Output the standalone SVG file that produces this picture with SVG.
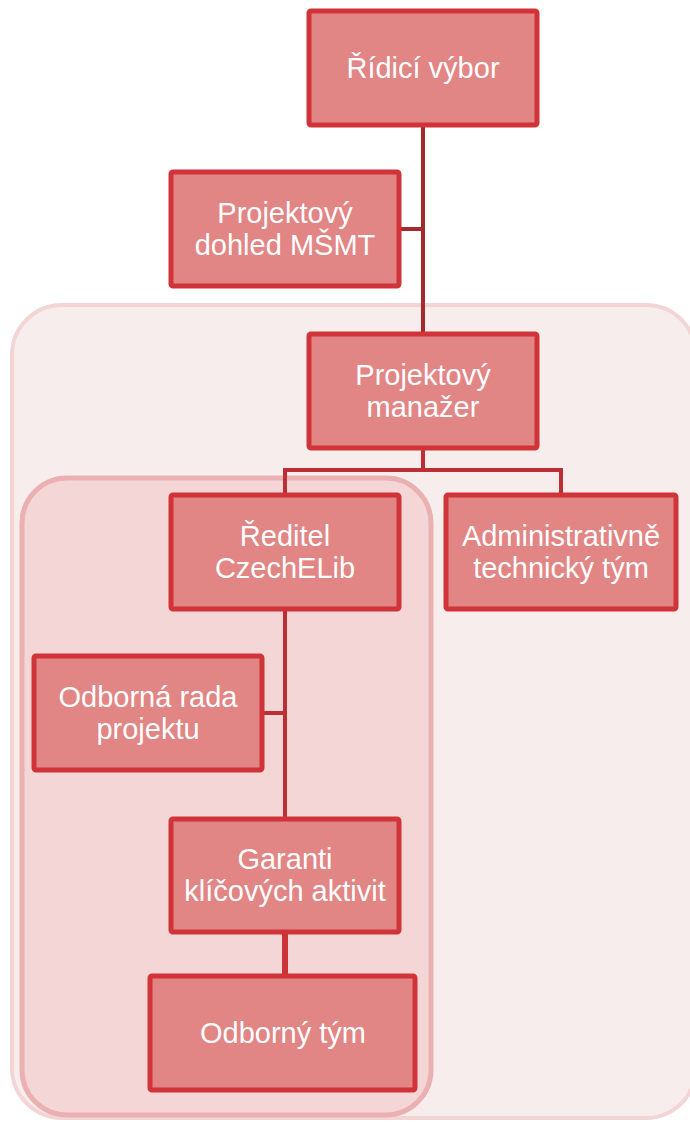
<svg xmlns="http://www.w3.org/2000/svg" width="690" height="1122" viewBox="0 0 690 1122">
<style>
.box{fill:#e18585;stroke:#d03438;stroke-width:5;}
.t{font-family:"Liberation Sans",Arial,sans-serif;font-size:29px;fill:#ffffff;text-anchor:middle;}
.c1{stroke:#a6292d;stroke-width:4;fill:none;}
.c2{stroke:#bd2f34;stroke-width:4;fill:none;}
.c3{stroke:#cc3337;stroke-width:6;fill:none;}
</style>
<g id="group-outer"><rect x="12" y="305" width="684" height="813" rx="50" fill="#f8eded" stroke="#f3d5d6" stroke-width="4"/></g>
<g id="group-inner"><rect x="22" y="478" width="409" height="637" rx="45" fill="#f4d6d7" stroke="#ebb0b1" stroke-width="5"/></g>
<g id="connectors">
<path class="c1" d="M423 125 V334 M399 229 H423"/>
<path class="c2" d="M423 448 V470 M285 495 V470 H561 V495"/>
<path class="c2" d="M285 609 V819 M262 713 H285"/>
<path class="c3" d="M285 932 V976"/>
</g>
<g id="n1"><rect class="box" x="309" y="11" width="228" height="114" rx="2"/><text class="t" x="423" y="78">Řídicí výbor</text></g>
<g id="n2"><rect class="box" x="171" y="172" width="228" height="114" rx="2"/><text class="t" x="285" y="223">Projektový</text><text class="t" x="285" y="255">dohled MŠMT</text></g>
<g id="n3"><rect class="box" x="309" y="334" width="228" height="114" rx="2"/><text class="t" x="423" y="385">Projektový</text><text class="t" x="423" y="417">manažer</text></g>
<g id="n4"><rect class="box" x="171" y="495" width="228" height="114" rx="2"/><text class="t" x="285" y="546">Ředitel</text><text class="t" x="285" y="578">CzechELib</text></g>
<g id="n5"><rect class="box" x="446" y="495" width="230" height="114" rx="2"/><text class="t" x="561" y="546">Administrativně</text><text class="t" x="561" y="578">technický tým</text></g>
<g id="n6"><rect class="box" x="34" y="656" width="228" height="114" rx="2"/><text class="t" x="148" y="707">Odborná rada</text><text class="t" x="148" y="739">projektu</text></g>
<g id="n7"><rect class="box" x="171" y="819" width="228" height="113" rx="2"/><text class="t" x="285" y="869">Garanti</text><text class="t" x="285" y="901">klíčových aktivit</text></g>
<g id="n8"><rect class="box" x="150" y="976" width="265" height="114" rx="2"/><text class="t" x="283" y="1043">Odborný tým</text></g>
</svg>
